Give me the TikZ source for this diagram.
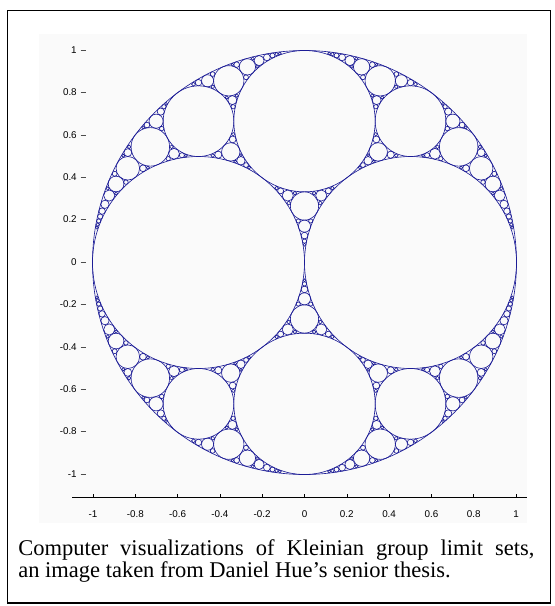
\documentclass[tikz,border=0pt]{standalone}
\usepackage{fontspec}
\setmainfont{Liberation Serif}
\setsansfont{Liberation Sans}
\usepackage{xcolor}
\usetikzlibrary{positioning}
\definecolor{limitblue}{RGB}{28,28,150}
\tikzset{
  limitset/.style={draw=limitblue,line width=0.45pt},
  axisline/.style={draw=black,line width=0.6pt},
  ticklab/.style={font=\sffamily\fontsize{7}{8}\selectfont,inner sep=0pt},
  capline/.style={font=\fontsize{16}{17}\selectfont,inner sep=0pt,anchor=base west}
}
% circles are stored as {k}{k x}{k y}, all integers for this packing
\def\apk#1#2#3{#1}
\def\apa#1#2#3{#2}
\def\apb#1#2#3{#3}
\newcommand{\apollmax}{150}
\newcommand{\apolldraw}[3]{\draw[limitset] ({#2/#1},{#3/#1}) circle [radius={1/#1}];}
\newcommand{\apollstep}[4]{%
  \begingroup
  \edef\nk{\the\numexpr 2*(\apk#1+\apk#2+\apk#3)-\apk#4\relax}%
  \ifnum\nk>\apollmax\relax\else
    \edef\na{\the\numexpr 2*(\apa#1+\apa#2+\apa#3)-\apa#4\relax}%
    \edef\nb{\the\numexpr 2*(\apb#1+\apb#2+\apb#3)-\apb#4\relax}%
    \apolldraw{\nk}{\na}{\nb}%
    \edef\nc{{\nk}{\na}{\nb}}%
    \expandafter\apollkids\expandafter{\nc}{#1}{#2}{#3}%
  \fi
  \endgroup}
\newcommand{\apollkids}[4]{%
  \apollstep{#2}{#3}{#1}{#4}%
  \apollstep{#2}{#4}{#1}{#3}%
  \apollstep{#3}{#4}{#1}{#2}}

\begin{document}
\begin{tikzpicture}[x=0.025cm,y=0.025cm]
  \useasboundingbox (0,0) rectangle (554,-606);
  \fill[black!2] (39,-34) rectangle (527,-523);
  \draw[line width=1.4pt] (7.5,-10.5) rectangle (550.5,-603);

  % the gasket
  \begin{scope}[shift={(304.5,-262.5)},scale=212]
    \draw[limitset] (0,0) circle [radius=1];
    \draw[limitset] (-0.5,0) circle [radius=0.5];
    \draw[limitset] (0.5,0) circle [radius=0.5];
    \draw[limitset] (0,0.6667) circle [radius=0.3333];
    \draw[limitset] (0,-0.6667) circle [radius=0.3333];
    \apollstep{{-1}{0}{0}}{{2}{-1}{0}}{{3}{0}{2}}{{2}{1}{0}}
    \apollstep{{-1}{0}{0}}{{2}{1}{0}}{{3}{0}{2}}{{2}{-1}{0}}
    \apollstep{{2}{-1}{0}}{{2}{1}{0}}{{3}{0}{2}}{{-1}{0}{0}}
    \apollstep{{-1}{0}{0}}{{2}{-1}{0}}{{3}{0}{-2}}{{2}{1}{0}}
    \apollstep{{-1}{0}{0}}{{2}{1}{0}}{{3}{0}{-2}}{{2}{-1}{0}}
    \apollstep{{2}{-1}{0}}{{2}{1}{0}}{{3}{0}{-2}}{{-1}{0}{0}}
  \end{scope}

  % axes
  \draw[axisline] (72,-497.5) -- (527,-497.5);
  \foreach \v/\t [count=\i] in {-1/-1,-0.8/-0.8,-0.6/-0.6,-0.4/-0.4,-0.2/-0.2,0/0,0.2/0.2,0.4/0.4,0.6/0.6,0.8/0.8,1/1}{
    \draw[axisline,line width=0.4pt] ({304.5+211.5*\v},-497.5) -- ++(0,3.5);
    \node[ticklab] (xl\i) at ({304.5+211.5*\v},-514) {\t};
  }
  \foreach \v/\t [count=\i] in {1/1,0.8/0.8,0.6/0.6,0.4/0.4,0.2/0.2,0/0,-0.2/-0.2,-0.4/-0.4,-0.6/-0.6,-0.8/-0.8,-1/-1}{
    \node[ticklab,anchor=east] (yl\i) at (77,{-262+212*\v}) {\t};
    \draw[black!70,line width=0.4pt] ([xshift=3.5*0.025cm]yl\i.east) -- ++(5,0);
  }

  \node[capline] (cap1) at (18,-555) {\makebox[12.9cm][s]{Computer visualizations of Kleinian group limit sets,}};
  \node[capline] (cap2) at (18,-577) {an image taken from Daniel Hue’s senior thesis.};
\end{tikzpicture}
\end{document}
